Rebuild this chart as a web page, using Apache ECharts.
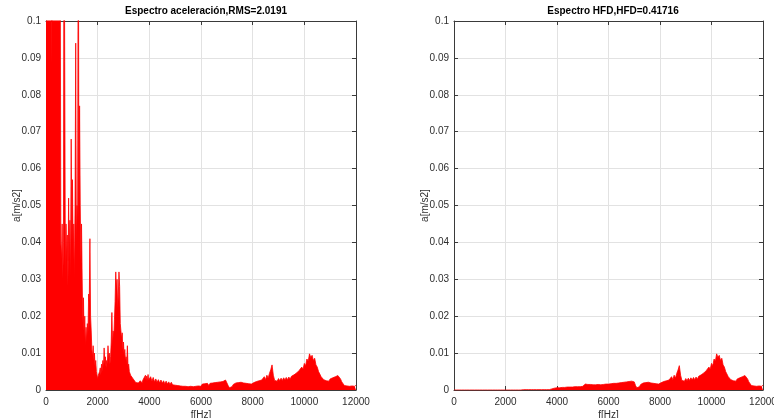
<!DOCTYPE html>
<html>
<head>
<meta charset="utf-8">
<script src="https://cdn.jsdelivr.net/npm/echarts@6/dist/echarts.min.js"></script>
<style>
  html, body { margin: 0; padding: 0; background: #ffffff; }
  #chart { width: 774px; height: 418px; }
</style>
</head>
<body>
<div id="chart"></div>
<script>
// Bin widths of the two stored frequency bands (Hz)
var LOW_BAND_STEP = 25;    // 0 - 3975 Hz
var HIGH_BAND_START = 4000;
var HIGH_BAND_STEP = 50;   // 4000 - 12000 Hz

var xTicks = [0, 2000, 4000, 6000, 8000, 10000, 12000];
var yTicks = [0, 0.01, 0.02, 0.03, 0.04, 0.05, 0.06, 0.07, 0.08, 0.09, 0.1];

var titleAccel = 'Espectro aceleración,RMS=2.0191';
var titleHfd = 'Espectro HFD,HFD=0.41716';

// Acceleration spectrum amplitude [m/s2], 0 - 3975 Hz, 25 Hz bins (rows of 250 Hz)
var accelLow = [
  0.13, 0.17, 0.11, 0.15, 0.12, 0.16, 0.14, 0.19, 0.12, 0.088,
  0.15, 0.13, 0.17, 0.11, 0.14, 0.16, 0.12, 0.105, 0.15, 0.13,
  0.11, 0.14, 0.12, 0.04, 0.035, 0.045, 0.03, 0.04, 0.15, 0.089,
  0.03, 0.045, 0.035, 0.042, 0.028, 0.052, 0.035, 0.046, 0.03, 0.068,
  0.04, 0.057, 0.035, 0.045, 0.03, 0.05, 0.094, 0.04, 0.05, 0.045,
  0.15, 0.045, 0.077, 0.05, 0.035, 0.045, 0.03, 0.018, 0.025, 0.014,
  0.02, 0.012, 0.017, 0.013, 0.018, 0.015, 0.026, 0.024, 0.041, 0.02,
  0.016, 0.011, 0.009, 0.012, 0.008, 0.01, 0.006, 0.008, 0.005, 0.004,
  0.003, 0.004, 0.0035, 0.005, 0.006, 0.004, 0.007, 0.005, 0.008, 0.006,
  0.0114, 0.007, 0.009, 0.006, 0.008, 0.007, 0.012, 0.008, 0.01, 0.007,
  0.009, 0.013, 0.021, 0.012, 0.016, 0.014, 0.019, 0.024, 0.032, 0.027,
  0.03, 0.022, 0.026, 0.032, 0.028, 0.018, 0.016, 0.014, 0.0155, 0.011,
  0.013, 0.009, 0.011, 0.008, 0.009, 0.007, 0.012, 0.006, 0.007, 0.005,
  0.0055, 0.004, 0.0045, 0.0035, 0.004, 0.003, 0.0032, 0.0025, 0.0028, 0.002,
  0.0022, 0.0018, 0.0024, 0.0019, 0.0021, 0.0017, 0.0025, 0.002, 0.0023, 0.0019,
  0.0027, 0.0022, 0.0028, 0.0024, 0.004, 0.0026, 0.0038, 0.0025, 0.0042, 0.0027
];

// Acceleration spectrum amplitude [m/s2], 4000 - 12000 Hz, 50 Hz bins (rows of 500 Hz)
var accelHigh = [
  0.0028, 0.0036, 0.0024, 0.0034, 0.0022, 0.0030, 0.0021, 0.0028, 0.0019, 0.0027,
  0.0018, 0.0025, 0.0017, 0.0024, 0.0016, 0.0022, 0.0015, 0.0021, 0.0014, 0.0019,
  0.0013, 0.0018, 0.0012, 0.0017, 0.0011, 0.0016, 0.0010, 0.0015, 0.0010, 0.0014,
  0.0009, 0.0014, 0.0010, 0.0013, 0.0009, 0.0014, 0.0010, 0.0015, 0.0011, 0.0015,
  0.0010, 0.0016, 0.0011, 0.0017, 0.0012, 0.0018, 0.0012, 0.0018, 0.0013, 0.0019,
  0.0014, 0.0020, 0.0015, 0.0021, 0.0016, 0.0022, 0.0017, 0.0023, 0.0021, 0.0027,
  0.0022, 0.0012, 0.0006, 0.0005, 0.0009, 0.0015, 0.0012, 0.0019, 0.0014, 0.0020,
  0.0015, 0.0021, 0.0016, 0.0019, 0.0014, 0.0018, 0.0013, 0.0017, 0.0012, 0.0016,
  0.0014, 0.0020, 0.0016, 0.0023, 0.0018, 0.0025, 0.0020, 0.0027, 0.0024, 0.0036,
  0.0028, 0.0040, 0.0032, 0.0045, 0.0055, 0.0068, 0.0040, 0.0026, 0.0030, 0.0024,
  0.0031, 0.0025, 0.0032, 0.0026, 0.0033, 0.0027, 0.0034, 0.0028, 0.0035, 0.0029,
  0.0037, 0.0032, 0.0041, 0.0036, 0.0046, 0.0042, 0.0053, 0.0048, 0.0062, 0.0056,
  0.0072, 0.0066, 0.0084, 0.0078, 0.0098, 0.0088, 0.0094, 0.0080, 0.0086, 0.0068,
  0.0062, 0.0050, 0.0046, 0.0036, 0.0034, 0.0028, 0.0031, 0.0025, 0.0029, 0.0024,
  0.0030, 0.0026, 0.0033, 0.0029, 0.0036, 0.0032, 0.0039, 0.0034, 0.0030, 0.0022,
  0.0018, 0.0012, 0.0016, 0.0011, 0.0015, 0.0010, 0.0014, 0.0011, 0.0015, 0.0010,
  0.0013
];

// HFD band amplitude [m/s2], 0 - 3975 Hz, 25 Hz bins
var hfdLow = [
  0, 0, 0, 0, 0, 0, 0, 0, 0, 0,
  0, 0, 0, 0, 0, 0, 0, 0, 0, 0,
  0, 0, 0, 0, 0, 0, 0, 0, 0, 0,
  0, 0, 0, 0, 0, 0, 0, 0, 0, 0,
  0, 0, 0, 0, 0, 0, 0, 0, 0, 0,
  0, 0, 0, 0, 0, 0, 0, 0, 0, 0,
  0, 0, 0, 0, 0, 0, 0, 0, 0, 0,
  0, 0, 0, 0, 0, 0, 0, 0, 0, 0,
  0, 0, 0, 0, 0, 0, 0, 0, 0, 0,
  0, 0, 0, 0, 0, 0, 0, 0, 0, 0,
  0, 0, 0, 0, 0, 0, 0, 0, 0.0001, 0.0001,
  0.0001, 0.0001, 0.0001, 0.0001, 0.0001, 0.0001, 0.0001, 0.0001, 0.0001, 0.0001,
  0.0001, 0.0001, 0.0001, 0.0001, 0.0001, 0.0001, 0.0001, 0.0001, 0.0001, 0.0001,
  0.0001, 0.0001, 0.0001, 0.0001, 0.0001, 0.0001, 0.0001, 0.0001, 0.0001, 0.0001,
  0.0001, 0.0001, 0.0001, 0.0001, 0.0001, 0.0001, 0.0001, 0.0001, 0.0001, 0.0001,
  0.0001, 0.0002, 0.0003, 0.0003, 0.0004, 0.0004, 0.0005, 0.0005, 0.0006, 0.0006
];

// HFD band amplitude [m/s2], 4000 - 12000 Hz, 50 Hz bins
var hfdHigh = [
  0.0006, 0.0008, 0.0006, 0.0009, 0.0007, 0.0009, 0.0007, 0.0010, 0.0008, 0.0010,
  0.0008, 0.0010, 0.0008, 0.0011, 0.0009, 0.0011, 0.0009, 0.0011, 0.0009, 0.0012,
  0.0010, 0.0012, 0.0016, 0.0012, 0.0015, 0.0011, 0.0015, 0.0012, 0.0014, 0.0011,
  0.0014, 0.0011, 0.0015, 0.0011, 0.0014, 0.0012, 0.0015, 0.0012, 0.0016, 0.0012,
  0.0016, 0.0013, 0.0017, 0.0013, 0.0018, 0.0014, 0.0018, 0.0015, 0.0019, 0.0015,
  0.0020, 0.0016, 0.0021, 0.0017, 0.0022, 0.0018, 0.0023, 0.0019, 0.0024, 0.0027,
  0.0022, 0.0012, 0.0006, 0.0005, 0.0009, 0.0015, 0.0012, 0.0019, 0.0014, 0.0020,
  0.0015, 0.0021, 0.0016, 0.0019, 0.0014, 0.0018, 0.0013, 0.0017, 0.0012, 0.0016,
  0.0014, 0.0020, 0.0016, 0.0023, 0.0018, 0.0025, 0.0020, 0.0027, 0.0024, 0.0036,
  0.0028, 0.0040, 0.0032, 0.0045, 0.0054, 0.0066, 0.0040, 0.0026, 0.0030, 0.0024,
  0.0031, 0.0025, 0.0032, 0.0026, 0.0033, 0.0027, 0.0034, 0.0028, 0.0035, 0.0029,
  0.0037, 0.0032, 0.0041, 0.0036, 0.0046, 0.0042, 0.0053, 0.0048, 0.0062, 0.0056,
  0.0072, 0.0066, 0.0084, 0.0078, 0.0098, 0.0088, 0.0094, 0.0080, 0.0086, 0.0068,
  0.0062, 0.0050, 0.0046, 0.0036, 0.0034, 0.0028, 0.0031, 0.0025, 0.0029, 0.0024,
  0.0030, 0.0026, 0.0033, 0.0029, 0.0036, 0.0032, 0.0039, 0.0034, 0.0030, 0.0022,
  0.0018, 0.0012, 0.0016, 0.0011, 0.0015, 0.0010, 0.0014, 0.0011, 0.0015, 0.0010,
  0.0013
];

// Pair every amplitude with its bin frequency
function spectrumPoints(low, high) {
  var pts = [];
  low.forEach(function (v, i) { pts.push([i * LOW_BAND_STEP, v]); });
  high.forEach(function (v, i) { pts.push([HIGH_BAND_START + i * HIGH_BAND_STEP, v]); });
  return pts;
}

var accelSeries = spectrumPoints(accelLow, accelHigh);
var hfdSeries = spectrumPoints(hfdLow, hfdHigh);

var FONT = '"Liberation Sans", Arial, Helvetica, sans-serif';
var AXIS_COLOR = '#3a3a3a';
var TEXT_COLOR = '#2e2e2e';
var GRID_COLOR = '#e2e2e2';

var grids = [
  { left: 46, right: 418, top: 21, bottom: 28, outerBoundsMode: 'none', containLabel: false },
  { left: 454, right: 11, top: 21, bottom: 28, outerBoundsMode: 'none', containLabel: false }
];

function mainX(gi) {
  return {
    type: 'value', gridIndex: gi, min: 0, max: 12000, interval: 2000,
    position: 'bottom',
    name: 'f[Hz]', nameLocation: 'middle', nameGap: 20, nameMoveOverlap: false,
    nameTextStyle: { color: TEXT_COLOR, fontSize: 10, fontFamily: FONT },
    axisLine: { show: true, onZero: false, lineStyle: { color: AXIS_COLOR, width: 1 } },
    axisTick: { show: true, inside: true, length: 4, lineStyle: { color: AXIS_COLOR } },
    axisLabel: { color: TEXT_COLOR, fontSize: 10, fontFamily: FONT, margin: 7,
      formatter: function (v) { return String(Math.round(v)); } },
    splitLine: { show: true, lineStyle: { color: GRID_COLOR, width: 1 } }
  };
}
function mirrorX(gi) {
  return {
    type: 'value', gridIndex: gi, min: 0, max: 12000, interval: 2000,
    position: 'top',
    axisLine: { show: true, onZero: false, lineStyle: { color: AXIS_COLOR, width: 1 } },
    axisTick: { show: true, inside: true, length: 4, lineStyle: { color: AXIS_COLOR } },
    axisLabel: { show: false },
    splitLine: { show: false }
  };
}
function mainY(gi) {
  return {
    type: 'value', gridIndex: gi, min: 0, max: 0.1, interval: 0.01,
    position: 'left',
    name: 'a[m/s2]', nameLocation: 'middle', nameGap: 24, nameRotate: 90,
    nameMoveOverlap: false,
    nameTextStyle: { color: TEXT_COLOR, fontSize: 10, fontFamily: FONT },
    axisLine: { show: true, onZero: false, lineStyle: { color: AXIS_COLOR, width: 1 } },
    axisTick: { show: true, inside: true, length: 4, lineStyle: { color: AXIS_COLOR } },
    axisLabel: { color: TEXT_COLOR, fontSize: 10, fontFamily: FONT, margin: 5,
      formatter: function (v) { return v === 0 ? '0' : String(+v.toFixed(2)); } },
    splitLine: { show: true, lineStyle: { color: GRID_COLOR, width: 1 } }
  };
}
function mirrorY(gi) {
  return {
    type: 'value', gridIndex: gi, min: 0, max: 0.1, interval: 0.01,
    position: 'right',
    axisLine: { show: true, onZero: false, lineStyle: { color: AXIS_COLOR, width: 1 } },
    axisTick: { show: true, inside: true, length: 4, lineStyle: { color: AXIS_COLOR } },
    axisLabel: { show: false },
    splitLine: { show: false }
  };
}

function spectrum(gi, data) {
  return {
    type: 'line', xAxisIndex: gi * 2, yAxisIndex: gi * 2,
    data: data, showSymbol: false, symbol: 'none', clip: true,
    lineStyle: { color: '#ff0000', width: 0.8 },
    areaStyle: { color: '#ff0000', opacity: 1 },
    z: 1
  };
}

var chart = echarts.init(document.getElementById('chart'), null, { renderer: 'canvas' });
chart.setOption({
  animation: false,
  backgroundColor: '#ffffff',
  title: [
    { text: titleAccel, left: 201, top: 1, textAlign: 'center',
      textStyle: { fontSize: 10, fontWeight: 'bold', color: '#000000', fontFamily: FONT } },
    { text: titleHfd, left: 608, top: 1, textAlign: 'center',
      textStyle: { fontSize: 10, fontWeight: 'bold', color: '#000000', fontFamily: FONT } }
  ],
  grid: grids,
  xAxis: [mainX(0), mirrorX(0), mainX(1), mirrorX(1)],
  yAxis: [mainY(0), mirrorY(0), mainY(1), mirrorY(1)],
  series: [spectrum(0, accelSeries), spectrum(1, hfdSeries)]
});
</script>
</body>
</html>
